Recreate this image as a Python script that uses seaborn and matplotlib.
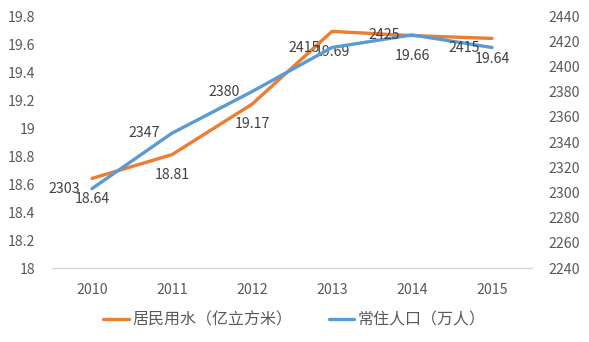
import matplotlib
matplotlib.use("Agg")
import matplotlib.pyplot as plt
import seaborn as sns
import pandas as pd
import numpy as np

years = ["2010", "2011", "2012", "2013", "2014", "2015"]
water = [18.64, 18.81, 19.17, 19.69, 19.66, 19.64]
population = [2303, 2347, 2380, 2415, 2425, 2415]
water_label = "居民用水（亿立方米）"
pop_label = "常住人口（万人）"

sns.set_theme(style="white")
plt.rcParams['font.family'] = ['Noto Sans CJK SC', 'DejaVu Sans']

orange = "#ED7D31"
blue = "#5B9BD5"
tick_color = "#595959"
label_color = "#404040"

df = pd.DataFrame({"x": np.arange(len(years)), "water": water, "pop": population})

fig = plt.figure(figsize=(5.89, 3.42), dpi=100)
ax = fig.add_axes([52/589, 1 - 268/342, 480/589, 252/342])
ax2 = ax.twinx()

sns.lineplot(data=df, x="x", y="water", ax=ax, color=orange, linewidth=2.4, legend=False)
sns.lineplot(data=df, x="x", y="pop", ax=ax2, color=blue, linewidth=2.4, legend=False)

ax.set_xlim(-0.5, len(years) - 0.5)
ax.set_ylim(18, 19.8)
ax2.set_ylim(2240, 2440)
lt = np.round(np.arange(18, 19.81, 0.2), 1)
ax.set_yticks(lt)
ax.set_yticklabels([f"{v:g}" for v in lt])
ax2.set_yticks(np.arange(2240, 2441, 20))
ax.set_xticks(df["x"])
ax.set_xticklabels(years)
ax.set_xlabel("")
ax.set_ylabel("")
ax2.set_ylabel("")

for a in (ax, ax2):
    for s in a.spines.values():
        s.set_visible(False)
    a.tick_params(length=0, labelsize=10.2, colors=tick_color)
    a.grid(False)
ax.spines['bottom'].set_visible(True)
ax.spines['bottom'].set_color("#D9D9D9")
ax.spines['bottom'].set_linewidth(1)
ax.tick_params(axis='x', pad=11)
ax.tick_params(axis='y', pad=12)
ax2.tick_params(axis='y', pad=12)

for xi, v in zip(df["x"], water):
    ax.annotate(f"{v:g}", (xi, v), xytext=(0, -14.5), textcoords="offset points",
                ha="center", va="center", fontsize=10.2, color=label_color)
for xi, v in zip(df["x"], population):
    ax2.annotate(f"{v}", (xi, v), xytext=(-8.5, 0), textcoords="offset points",
                 ha="right", va="center", fontsize=10.2, color=label_color)

from matplotlib.lines import Line2D
handles = [Line2D([0], [0], color=orange, lw=2.4), Line2D([0], [0], color=blue, lw=2.4)]
fig.legend(handles, [water_label, pop_label], loc="center", bbox_to_anchor=(0.5, 1 - 320/342),
           ncol=2, frameon=False, fontsize=11.5, handlelength=1.6, handletextpad=0.2,
           columnspacing=2.3, labelcolor=tick_color)

fig.savefig("out.png", dpi=100)
